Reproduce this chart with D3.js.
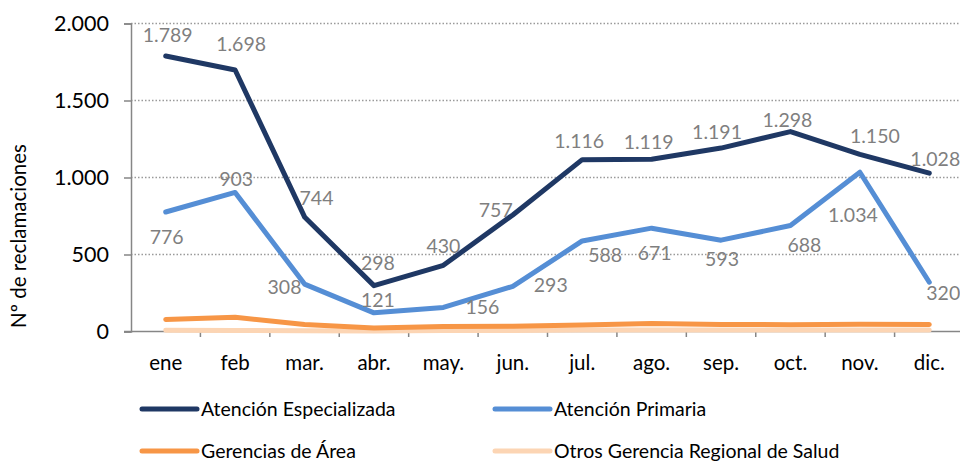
<!DOCTYPE html>
<html><head><meta charset="utf-8">
<script src="https://cdn.jsdelivr.net/npm/d3@7"></script>
<style>body{margin:0;background:#fff}svg{display:block}</style>
</head><body>
<svg id="c" width="960" height="461"></svg>
<script>
const months = ["ene","feb","mar.","abr.","may.","jun.","jul.","ago.","sep.","oct.","nov.","dic."];
const especializada = [1789,1698,744,298,430,757,1116,1119,1191,1298,1150,1028];
const primaria = [776,903,308,121,156,293,588,671,593,688,1034,320];
const gerencias = [78,92,45,22,32,34,42,52,46,44,47,46];
const otros = [8,6,5,4,6,7,9,10,9,9,10,9];
const yTicks = [0,500,1000,1500,2000];
const seriesNames = ["Atención Especializada","Atención Primaria","Gerencias de Área","Otros Gerencia Regional de Salud"];
// label offsets (style only)
const offE = [[2,-21],[6,-26],[12,-19],[4,-22],[0,-19],[-17,-5],[-3,-18],[-3,-17],[-4,-16],[-3,-11],[15,-18],[6,-14]];
const offP = [[1,25],[1,-13],[-20,3],[4,-13],[39,0],[38,-1],[23,14],[3,25],[1,19],[14,20],[-7,43],[14,11]];

const svg = d3.select("#c");
const fmt = v => d3.format(",")(v).replace(/,/g,".");
const x = d3.scaleBand().domain(months).range([131,964]);
const y = d3.scaleLinear().domain([0,2000]).range([331.5,23.5]);
const F = "Lato, 'Open Sans', sans-serif";

// gridlines
svg.append("g").selectAll("line").data(yTicks.filter(d=>d>0)).join("line")
  .attr("x1",131).attr("x2",960).attr("y1",d=>y(d)).attr("y2",d=>y(d))
  .attr("stroke","#9a9a9a").attr("stroke-width",1.3).attr("stroke-dasharray","1.5,2");

// y axis
const ya = svg.append("g").attr("transform","translate(131,0)")
  .call(d3.axisLeft(y).tickValues(yTicks).tickSize(7).tickPadding(15).tickFormat(fmt));
ya.select(".domain").attr("stroke","#868686").attr("stroke-width",1.5);
ya.selectAll(".tick line").attr("stroke","#868686").attr("stroke-width",1.5);
ya.selectAll("text").attr("font-family",F).attr("font-size",21.5).attr("fill","#000");

// x axis
const xa = svg.append("g").attr("transform","translate(0,331.5)")
  .call(d3.axisBottom(x).tickSize(0).tickPadding(24));
xa.select(".domain").attr("d","M124,0H960").attr("stroke","#868686").attr("stroke-width",1.5);
xa.selectAll("text").attr("font-family",F).attr("font-size",20.5).attr("fill","#000");
svg.append("g").selectAll("line").data(months.slice(1)).join("line")
  .attr("x1",d=>x(d)).attr("x2",d=>x(d)).attr("y1",331.5).attr("y2",337)
  .attr("stroke","#868686").attr("stroke-width",1.5);

// y title
svg.append("text").attr("transform","translate(26,236) rotate(-90)")
  .attr("text-anchor","middle").attr("font-family",F).attr("font-size",20.5).attr("fill","#000")
  .text("Nº de reclamaciones");

const line = d3.line().x((d,i)=>x(months[i])+x.bandwidth()/2).y(d=>y(d));
const colors = ["#1f3864","#558ed5","#f79646","#fcd5b4"];
const data = [especializada, primaria, gerencias, otros];
[3,2,1,0].forEach(k=>{
  svg.append("path").attr("d",line(data[k])).attr("fill","none")
    .attr("stroke",colors[k]).attr("stroke-width",5).attr("stroke-linecap","round").attr("stroke-linejoin","round");
});

function labels(vals, offs){
  svg.append("g").selectAll("text").data(vals).join("text")
    .attr("x",(d,i)=>x(months[i])+x.bandwidth()/2+offs[i][0])
    .attr("y",(d,i)=>y(d)+offs[i][1])
    .attr("dy","0.35em").attr("text-anchor","middle")
    .attr("font-family",F).attr("font-size",19.5).attr("fill","#7f7f7f")
    .text(fmt);
}
labels(especializada, offE);
labels(primaria, offP);

// legend
const leg = [[142,409],[495,409],[142,451],[495,451]];
seriesNames.forEach((n,k)=>{
  const g = svg.append("g").attr("transform",`translate(${leg[k][0]},${leg[k][1]})`);
  g.append("line").attr("x1",0).attr("x2",55).attr("stroke",colors[k]).attr("stroke-width",5).attr("stroke-linecap","round");
  g.append("text").attr("x",59).attr("dy","0.35em").attr("font-family",F).attr("font-size",19.5).attr("fill","#000").text(n);
});
</script>
</body></html>
